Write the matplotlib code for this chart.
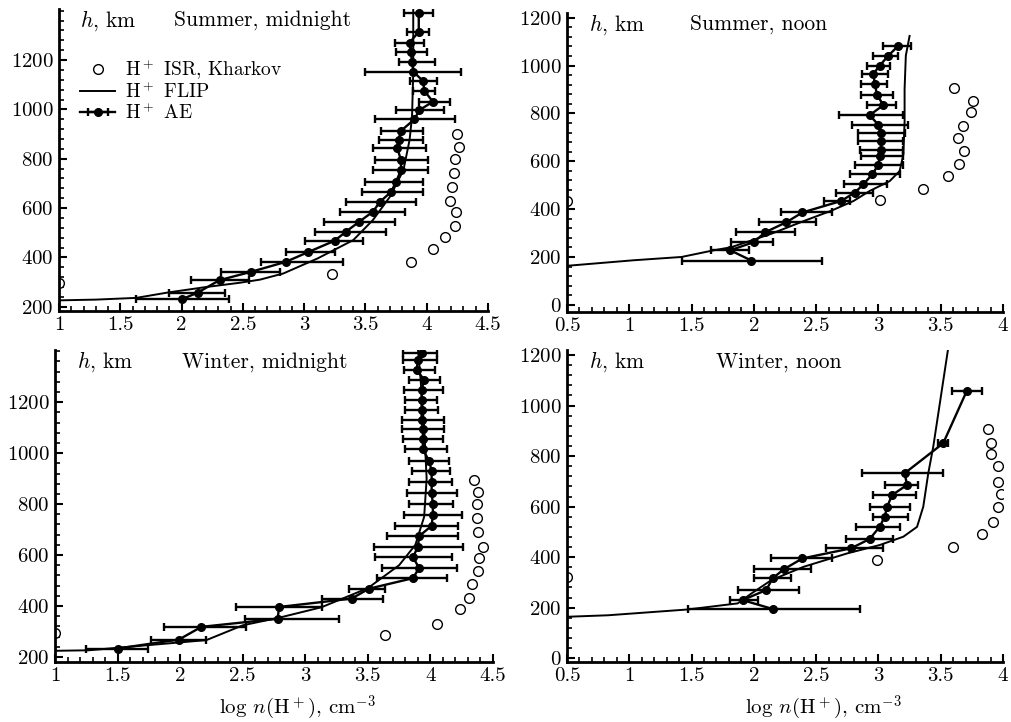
import numpy as np
import matplotlib
matplotlib.use("Agg")
import matplotlib.pyplot as plt
from matplotlib.ticker import MultipleLocator, FuncFormatter

plt.rcParams['font.family'] = 'cmr10'
plt.rcParams['mathtext.fontset'] = 'cm'
plt.rcParams['axes.formatter.use_mathtext'] = True
plt.rcParams['font.size'] = 15

# ---- Summer, midnight ----
sm_ae_h = [1390, 1315, 1270, 1234, 1193, 1153, 1115, 1076, 1031, 997, 960, 913, 876, 842, 795,
           754, 707, 666, 626, 585, 545, 504, 468, 421, 382, 342, 308, 257, 230]
sm_ae_x = [3.935, 3.935, 3.86, 3.87, 3.88, 3.89, 3.97, 3.98, 4.05, 3.94, 3.90, 3.79, 3.77, 3.76, 3.79,
           3.79, 3.75, 3.71, 3.62, 3.56, 3.45, 3.34, 3.25, 3.03, 2.85, 2.57, 2.31, 2.13, 2.0]
sm_ae_lo = [3.815, 3.84, 3.74, 3.75, 3.77, 3.50, 3.86, 3.89, 3.94, 3.75, 3.58, 3.63, 3.61, 3.56, 3.58,
            3.56, 3.50, 3.47, 3.34, 3.29, 3.16, 3.09, 3.01, 2.85, 2.65, 2.32, 2.08, 1.90, 1.63]
sm_ae_hi = [4.05, 4.02, 3.98, 4.0, 4.07, 4.28, 4.08, 4.07, 4.19, 4.14, 4.23, 3.97, 3.97, 3.99, 4.01,
            4.01, 3.97, 3.97, 3.91, 3.82, 3.74, 3.67, 3.48, 3.25, 3.32, 2.80, 2.55, 2.35, 2.39]
sm_flip_x = [1.0, 1.3, 1.63, 1.89, 2.2, 2.47, 2.64, 2.83, 3.11, 3.40, 3.56, 3.70, 3.81, 3.86, 3.88, 3.89, 3.89]
sm_flip_h = [226, 229, 236, 258, 280, 297, 310, 335, 396, 470, 551, 646, 754, 876, 970, 1150, 1410]
sm_isr_x = [4.25, 4.26, 4.23, 4.22, 4.21, 4.19, 4.24, 4.23, 4.15, 4.05, 3.87, 3.23, 1.0]
sm_isr_h = [899, 849, 799, 741, 684, 630, 585, 527, 481, 433, 382, 331, 297]

# ---- Summer, noon ----
sn_ae_h = [1083, 1042, 1000, 966, 924, 876, 835, 793, 752, 717, 683, 648, 621, 586, 545, 504,
           469, 434, 386, 345, 303, 262, 228, 185]
sn_ae_x = [3.16, 3.08, 3.01, 2.96, 2.97, 2.99, 3.04, 2.93, 3.00, 3.02, 3.02, 3.02, 3.01, 3.00, 2.95, 2.88,
           2.81, 2.70, 2.39, 2.26, 2.09, 2.00, 1.81, 1.98]
sn_ae_lo = [3.04, 2.96, 2.91, 2.87, 2.86, 2.86, 2.91, 2.68, 2.79, 2.84, 2.84, 2.85, 2.86, 2.81, 2.77, 2.72,
            2.66, 2.56, 2.22, 2.04, 1.86, 1.82, 1.66, 1.42]
sn_ae_hi = [3.26, 3.16, 3.09, 3.08, 3.07, 3.12, 3.14, 3.20, 3.24, 3.21, 3.20, 3.20, 3.20, 3.20, 3.17, 3.07,
            2.96, 2.77, 2.63, 2.50, 2.33, 2.15, 1.96, 2.55]
sn_flip_x = [0.5, 1.03, 1.42, 1.67, 1.82, 2.14, 2.41, 2.62, 2.80, 2.93, 3.09, 3.17, 3.20, 3.21, 3.21, 3.22, 3.25]
sn_flip_h = [163, 186, 200, 227, 241, 297, 352, 393, 434, 476, 517, 559, 628, 766, 903, 1042, 1124]
sn_isr_x = [3.61, 3.76, 3.74, 3.68, 3.64, 3.69, 3.65, 3.56, 3.36, 3.01, 0.5]
sn_isr_h = [906, 852, 804, 748, 699, 641, 590, 538, 485, 439, 434]

# ---- Winter, midnight ----
wm_ae_h = [1392, 1364, 1327, 1288, 1249, 1210, 1171, 1132, 1093, 1054, 1015, 969, 930, 885, 843,
           800, 758, 715, 674, 631, 592, 549, 509, 468, 429, 396, 350, 318, 268, 233]
wm_ae_x = [3.93, 3.90, 3.89, 3.95, 3.93, 3.93, 3.93, 3.93, 3.94, 3.94, 3.94, 3.99, 4.01, 4.01, 4.01,
           4.02, 4.02, 4.01, 3.91, 3.90, 3.86, 3.91, 3.86, 3.51, 3.37, 2.79, 2.78, 2.17, 1.99, 1.50]
wm_ae_lo = [3.78, 3.78, 3.79, 3.83, 3.79, 3.80, 3.80, 3.77, 3.77, 3.78, 3.80, 3.83, 3.85, 3.83, 3.81,
            3.83, 3.79, 3.72, 3.65, 3.55, 3.56, 3.61, 3.57, 3.35, 3.13, 2.45, 2.52, 1.87, 1.77, 1.25]
wm_ae_hi = [4.05, 4.05, 4.04, 4.08, 4.10, 4.05, 4.06, 4.11, 4.11, 4.10, 4.13, 4.15, 4.16, 4.17, 4.21,
            4.18, 4.25, 4.22, 4.22, 4.26, 4.17, 4.21, 4.13, 3.64, 3.62, 3.13, 3.27, 2.53, 2.21, 1.74]
wm_flip_x = [1.0, 1.27, 1.74, 2.21, 2.50, 2.8, 3.13, 3.5, 3.75, 3.88, 3.95, 3.97, 3.95, 3.92, 3.90]
wm_flip_h = [224, 226, 246, 266, 324, 355, 395, 470, 560, 640, 750, 900, 1100, 1300, 1410]
wm_isr_x = [4.35, 4.38, 4.37, 4.37, 4.38, 4.42, 4.39, 4.38, 4.33, 4.31, 4.24, 4.05, 3.64, 1.0]
wm_isr_h = [895, 849, 801, 745, 692, 633, 589, 539, 487, 431, 387, 328, 285, 292]

# ---- Winter, noon ----
wn_ae_h = [1059, 851, 732, 686, 646, 600, 560, 520, 472, 435, 395, 352, 316, 270, 230, 195]
wn_ae_x = [3.71, 3.52, 3.21, 3.23, 3.11, 3.07, 3.05, 3.01, 2.93, 2.78, 2.39, 2.24, 2.15, 2.10, 1.91, 2.15]
wn_ae_lo = [3.59, 3.48, 2.87, 3.05, 2.96, 2.93, 2.96, 2.82, 2.74, 2.58, 2.14, 2.00, 2.00, 1.87, 1.81, 1.47]
wn_ae_hi = [3.83, 3.56, 3.52, 3.32, 3.30, 3.25, 3.24, 3.17, 3.12, 3.04, 2.63, 2.46, 2.30, 2.36, 2.03, 2.85]
wn_flip_x = [0.5, 0.83, 1.47, 1.87, 1.98, 2.14, 2.40, 2.75, 3.01, 3.20, 3.31, 3.36, 3.40, 3.44, 3.57]
wn_flip_h = [164, 170, 193, 217, 256, 309, 362, 415, 448, 481, 520, 600, 732, 837, 1260]
wn_isr_x = [3.88, 3.90, 3.90, 3.96, 3.96, 3.98, 3.96, 3.92, 3.83, 3.60, 2.99, 0.5]
wn_isr_h = [906, 853, 808, 761, 699, 650, 597, 540, 491, 439, 388, 322]

fig = plt.figure(figsize=(10.11, 7.22), dpi=100)

def panel(rect, xlim, ylim, yticks, title, title_x, ae, flip, isr):
    ax = fig.add_axes(rect)
    ax_h, ax_x, lo, hi = [np.array(a) for a in ae]
    err = [ax_x - lo, hi - ax_x]
    ax.plot(isr[0], isr[1], 'o', mfc='white', mec='black', ms=7, mew=1.0, ls='none',
            label=r'H$^+$ ISR, Kharkov')
    ax.plot(flip[0], flip[1], '-', color='black', lw=1.4, label=r'H$^+$ FLIP')
    ax.errorbar(ax_x, ax_h, xerr=err, fmt='-o', color='black', ms=5.5, lw=1.7,
                elinewidth=1.7, capsize=3, capthick=1.7, label=r'H$^+$ AE')
    ax.set_xlim(*xlim)
    ax.set_ylim(*ylim)
    ax.set_yticks(yticks)
    ax.xaxis.set_major_locator(MultipleLocator(0.5))
    ax.xaxis.set_minor_locator(MultipleLocator(0.1))
    ax.yaxis.set_minor_locator(MultipleLocator(40))
    ax.xaxis.set_major_formatter(FuncFormatter(lambda v, p: '%g' % v))
    for s in ['top', 'right']:
        ax.spines[s].set_visible(False)
    for s in ['left', 'bottom']:
        ax.spines[s].set_linewidth(2.0)
    ax.tick_params(which='major', direction='in', length=6, width=1.5, labelsize=15, pad=4)
    ax.tick_params(which='minor', direction='in', length=3.5, width=1.2)
    ax.text(0.05, 0.962, r'$h$, km', transform=ax.transAxes, ha='left', va='center', fontsize=15.5)
    ax.text(title_x, 0.962, title, transform=ax.transAxes, ha='center', va='center', fontsize=15.5)
    return ax

ax1 = panel([0.0584, 0.5693, 0.4243, 0.4183], (1, 4.5), (183, 1407), range(200, 1201, 200),
            'Summer, midnight', 0.475,
            (sm_ae_h, sm_ae_x, sm_ae_lo, sm_ae_hi), (sm_flip_x, sm_flip_h), (sm_isr_x, sm_isr_h))
ax2 = panel([0.5608, 0.5679, 0.4313, 0.4141], (0.5, 4), (-30, 1220), range(0, 1201, 200),
            'Summer, noon', 0.44,
            (sn_ae_h, sn_ae_x, sn_ae_lo, sn_ae_hi), (sn_flip_x, sn_flip_h), (sn_isr_x, sn_isr_h))
ax3 = panel([0.0544, 0.0831, 0.4332, 0.4321], (1, 4.5), (180, 1405), range(200, 1201, 200),
            'Winter, midnight', 0.48,
            (wm_ae_h, wm_ae_x, wm_ae_lo, wm_ae_hi), (wm_flip_x, wm_flip_h), (wm_isr_x, wm_isr_h))
ax4 = panel([0.5608, 0.0831, 0.4313, 0.4321], (0.5, 4), (-15, 1220), range(0, 1201, 200),
            'Winter, noon', 0.485,
            (wn_ae_h, wn_ae_x, wn_ae_lo, wn_ae_hi), (wn_flip_x, wn_flip_h), (wn_isr_x, wn_isr_h))

ax1.legend(loc='upper left', bbox_to_anchor=(0.05, 0.84), frameon=False, fontsize=14,
           handlelength=1.8, handletextpad=0.5, labelspacing=0.0, borderpad=0, borderaxespad=0)

xlabel = r'log $n$(H$^+$), cm$^{-3}$'
fig.text(297 / 1011, 1 - 708 / 722, xlabel, ha='center', va='center', fontsize=15)
fig.text(823 / 1011, 1 - 708 / 722, xlabel, ha='center', va='center', fontsize=15)

fig.savefig('out.png', dpi=100)
